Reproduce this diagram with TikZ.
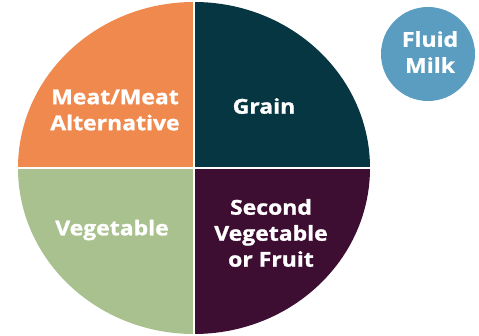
\documentclass[tikz,border=0pt]{standalone}
\usepackage{fontspec}
\newfontfamily\lblfont[FakeStretch=1.12,BoldFeatures={FakeBold=1.2}]{Open Sans}
\definecolor{cMeat}{HTML}{F0894E}
\definecolor{cGrain}{HTML}{053642}
\definecolor{cVeg}{HTML}{A9C18F}
\definecolor{cFruit}{HTML}{3D0D32}
\definecolor{cMilk}{HTML}{5A9DC0}
\begin{document}
\begin{tikzpicture}[x=1pt,y=-1pt,
  lbl/.style={text=white,font=\lblfont\bfseries\fontsize{20.5}{26}\selectfont,align=center,inner sep=0pt}]
\useasboundingbox (0,0) rectangle (479,336);
\coordinate (c) at (194,168);
\begin{scope}
\clip (c) ellipse [x radius=176, y radius=166];
\fill[cMeat] (c) rectangle (0,0);
\fill[cGrain] (c) rectangle (400,0);
\fill[cVeg] (c) rectangle (0,340);
\fill[cFruit] (c) rectangle (400,340);
\end{scope}
\draw[white,line width=2.5] (194,0) -- (194,340);
\draw[white,line width=2.5] (0,168) -- (400,168);
\fill[cMilk] (428,54) circle [radius=47];
\node[lbl] (meat) at (115,110) {Meat/Meat\\Alternative};
\node[lbl] (grain) at (264,106) {Grain};
\node[lbl] (veg) at (112,230) {Vegetable};
\node[lbl] (fruit) at (271,233) {Second\\Vegetable\\or Fruit};
\node[lbl] (milk) at (430,52) {Fluid\\Milk};
\end{tikzpicture}
\end{document}
